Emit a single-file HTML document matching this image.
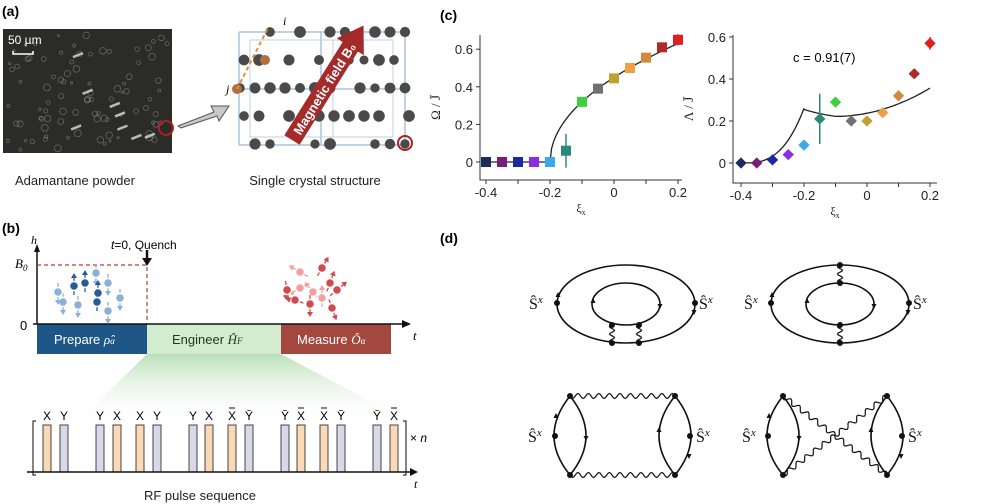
<!DOCTYPE html>
<html><head><meta charset="utf-8"><style>
html,body{margin:0;padding:0;background:#fff;}
svg{display:block;font-family:"Liberation Sans",sans-serif;}
.m{font-family:"Liberation Serif",serif;}
</style></head><body>
<svg id="s" width="997" height="504" viewBox="0 0 997 504" xmlns="http://www.w3.org/2000/svg">
<defs>
<linearGradient id="gg" x1="0" y1="0" x2="0" y2="1"><stop offset="0" stop-color="#a9d8a5"/><stop offset="1" stop-color="#ffffff" stop-opacity="0"/></linearGradient>
</defs>
<!-- (a) -->
<text x="2" y="16" font-size="14" font-weight="bold">(a)</text>
<rect x="3" y="29" width="169" height="124" fill="#2b2b27"/>
<g id="speck"></g>
<text x="8" y="44" font-size="12" fill="#fff">50 µm</text>
<path d="M13 51 V54 H33 V51" stroke="#fff" stroke-width="1.5" fill="none"/>
<circle cx="166" cy="128" r="7" fill="none" stroke="#b02020" stroke-width="2"/>
<path d="M178 126 L214 112 L211 106 L229 106 L219 121 L217 116 L181 128 Z" fill="#c8c8c8" stroke="#555" stroke-width="1"/>
<text x="75" y="185" font-size="13" text-anchor="middle" fill="#222">Adamantane powder</text>
<text x="315" y="185" font-size="13" text-anchor="middle" fill="#222">Single crystal structure</text>
<g id="cryst"></g>
<path d="M237 89 L268 28" stroke="#e09040" stroke-width="2" stroke-dasharray="4,3"/>
<text x="283" y="25" font-size="12" font-style="italic" class="m">i</text>
<text x="226" y="93" font-size="12" font-style="italic" class="m">j</text>
<g transform="translate(292,140) rotate(-58)">
<path d="M0 -9 L110 -9 L110 -16 L135 0 L110 16 L110 9 L0 9 Z" fill="#a52a2a"/>
<text x="8" y="5" font-size="13" font-weight="bold" fill="#fff">Magnetic field B₀</text>
</g>
<circle cx="405" cy="143" r="7" fill="none" stroke="#b02020" stroke-width="2"/>
<!-- (b) -->
<text x="2" y="233" font-size="14" font-weight="bold">(b)</text>
<text x="31" y="244" font-size="12" font-style="italic" class="m">h</text>
<path d="M37 324 V250" stroke="#111" stroke-width="1.5"/><path d="M34 252 L37 244 L40 252Z" fill="#111"/>
<text x="15" y="268" font-size="13" font-style="italic" class="m">B<tspan font-size="9" dy="3">0</tspan></text>
<text x="20" y="330" font-size="13">0</text>
<path d="M37 265 H147 V324" stroke="#c0392b" stroke-width="1.2" stroke-dasharray="4,3" fill="none"/>
<text x="111" y="249" font-size="12"><tspan font-style="italic">t</tspan>=0, Quench</text>
<path d="M147 250 V260" stroke="#111" stroke-width="2.5"/><path d="M142 258 L147 266 L152 258Z" fill="#111"/>
<path d="M147 354 L281 354 L415 425 L75 425 Z" fill="url(#gg)" opacity="0.8"/>
<rect x="37" y="324" width="110" height="30" fill="#1e5688"/>
<rect x="147" y="324" width="134" height="30" fill="#d3ebce"/>
<rect x="281" y="324" width="110" height="30" fill="#a3473f"/>
<path d="M33 324 H404" stroke="#111" stroke-width="1.5"/><path d="M402 320 L411 324 L402 328Z" fill="#111"/>
<text x="413" y="340" font-size="13" font-style="italic" class="m">t</text>
<text x="54" y="344" font-size="13" fill="#fff">Prepare <tspan class="m" font-style="italic">ρ̂<tspan font-size="9">α</tspan></tspan></text>
<text x="172" y="344" font-size="13" fill="#1a3a1a">Engineer <tspan class="m" font-style="italic">Ĥ<tspan font-size="9">F</tspan></tspan></text>
<text x="297" y="344" font-size="13" fill="#fff">Measure <tspan class="m" font-style="italic">Ô<tspan font-size="9">α</tspan></tspan></text>
<g id="spins"></g>
<g id="pulses"></g>
<path d="M36 421 H33 V475 H36" stroke="#333" fill="none" stroke-width="1.2"/>
<path d="M403 421 H406 V475 H403" stroke="#333" fill="none" stroke-width="1.2"/>
<path d="M27 472 H413" stroke="#111" stroke-width="1.5"/><path d="M410 468 L418 472 L410 476Z" fill="#111"/>
<text x="410" y="442" font-size="12">× <tspan font-style="italic">n</tspan></text>
<text x="414" y="488" font-size="12" font-style="italic" class="m">t</text>
<text x="200" y="500" font-size="13" text-anchor="middle" fill="#222">RF pulse sequence</text>
<!-- (c) -->
<text x="440" y="20" font-size="14" font-weight="bold">(c)</text>
<g id="plots" font-size="13" fill="#222"></g>
<text x="793" y="62" font-size="13">c = 0.91(7)</text>
<!-- (d) -->
<text x="440" y="243" font-size="14" font-weight="bold">(d)</text>
<g id="diag" fill="none" stroke="#111" stroke-width="1.6"></g>
<g font-size="16" class="m" fill="#111">
<text x="529" y="309">Ŝ<tspan font-size="11" dy="-6" font-style="italic">x</tspan></text>
<text x="699" y="309">Ŝ<tspan font-size="11" dy="-6" font-style="italic">x</tspan></text>
<text x="744" y="309">Ŝ<tspan font-size="11" dy="-6" font-style="italic">x</tspan></text>
<text x="913" y="309">Ŝ<tspan font-size="11" dy="-6" font-style="italic">x</tspan></text>
<text x="528" y="442">Ŝ<tspan font-size="11" dy="-6" font-style="italic">x</tspan></text>
<text x="696" y="442">Ŝ<tspan font-size="11" dy="-6" font-style="italic">x</tspan></text>
<text x="742" y="442">Ŝ<tspan font-size="11" dy="-6" font-style="italic">x</tspan></text>
<text x="908" y="442">Ŝ<tspan font-size="11" dy="-6" font-style="italic">x</tspan></text>
</g>
</svg>
<script>
var NS="http://www.w3.org/2000/svg";
function el(p,t,a,txt){var e=document.createElementNS(NS,t);for(var k in a)e.setAttribute(k,a[k]);if(txt!=null)e.textContent=txt;document.getElementById(p).appendChild(e);return e;}
var seed=7;function rnd(){seed=(seed*16807)%2147483647;return seed/2147483647;}
for(var i=0;i<90;i++){el("speck","circle",{cx:8+rnd()*160,cy:35+rnd()*115,r:1+rnd()*2.5,fill:"none",stroke:"#bbb","stroke-width":0.8,opacity:0.4});}
for(var i=0;i<8;i++){var x=30+rnd()*120,y=50+rnd()*90;el("speck","line",{x1:x,y1:y,x2:x+10,y2:y-4,stroke:"#ddd","stroke-width":2.5,opacity:0.8});}
var xs=[239,321,405],ys=[32,89,145];
for(var a=0;a<3;a++){el("cryst","line",{x1:xs[a],y1:32,x2:xs[a],y2:145,stroke:"#aac2da","stroke-width":1.5});el("cryst","line",{x1:239,y1:ys[a],x2:405,y2:ys[a],stroke:"#aac2da","stroke-width":1.5});}
[250,333,393].forEach(function(x){el("cryst","line",{x1:x,y1:40,x2:x,y2:137,stroke:"#bcd0e4","stroke-width":1});});
el("cryst","line",{x1:250,y1:40,x2:393,y2:40,stroke:"#bcd0e4"});el("cryst","line",{x1:250,y1:137,x2:393,y2:137,stroke:"#bcd0e4"});
for(var r=0;r<5;r++)for(var c=0;c<12;c++){var x=240+c*15+(r%2)*4,y=32+r*28;if(rnd()<0.75)el("cryst","circle",{cx:x,cy:y,r:4.5+rnd()*1.5,fill:"#4a4a4a"});}
el("cryst","circle",{cx:237,cy:89,r:5,fill:"#b07040"});el("cryst","circle",{cx:265,cy:60,r:5,fill:"#b07040"});
function spin(x,y,col,ang){var g=el("spins","g",{transform:"translate("+x+","+y+") rotate("+ang+")"});
 var l=document.createElementNS(NS,"line");l.setAttribute("x1",0);l.setAttribute("y1",-10);l.setAttribute("x2",0);l.setAttribute("y2",9);l.setAttribute("stroke",col);l.setAttribute("stroke-width",1.3);g.appendChild(l);
 var p=document.createElementNS(NS,"path");p.setAttribute("d","M-3 -8 L0 -13 L3 -8Z");p.setAttribute("fill",col);g.appendChild(p);
 var c=document.createElementNS(NS,"circle");c.setAttribute("r",4.5);c.setAttribute("fill",col);c.setAttribute("stroke","#fff");c.setAttribute("stroke-width",1.5);g.appendChild(c);}
[[74,286,0],[85,283,0],[96,273,1],[108,283,0],[98,293,0],[63,302,1],[78,305,0],[97,302,0],[108,311,0],[120,298,1],[58,292,1]].forEach(function(s){var d=s[2]||(s[0]%3==0);spin(s[0],s[1],d?"#8ab0d8":"#2a5a98",d?180:0);});
[[300,272,-60],[322,268,30],[330,283,20],[313,292,-40],[295,300,-70],[310,304,180],[322,298,0],[332,308,160],[337,290,50],[300,288,-120],[287,290,170]].forEach(function(s,i){spin(s[0],s[1],i%3==0?"#f0a0a0":"#d24a4a",s[2]);});
var P=[[43,"o","X"],[60,"g","Y"],[96,"g","Y"],[113,"o","X"],[136,"o","X"],[153,"g","Y"],[189,"g","Y"],[205,"o","X"],[228,"o","X̄"],[245,"g","Ȳ"],[281,"g","Ȳ"],[297,"o","X̄"],[320,"o","X̄"],[337,"g","Ȳ"],[373,"g","Ȳ"],[390,"o","X̄"]];
P.forEach(function(p){el("pulses","rect",{x:p[0],y:425,width:8,height:47,fill:p[1]=="o"?"#fbd9b6":"#d8d8e8",stroke:"#444","stroke-width":1});
 el("pulses","text",{x:p[0]+4,y:420,"font-size":12,"text-anchor":"middle"},p[2].charAt(0));
 if(p[2].length>1)el("pulses","line",{x1:p[0]+1,y1:408,x2:p[0]+7,y2:408,stroke:"#111","stroke-width":1});});
var cols=["#1c2a5c","#7a1c7a","#1c2aa0","#8c2ee0","#3aa8ea","#2a8a7a","#3cd03c","#707070","#c0a030","#f0a040","#d08a40","#b02a2a","#e02020"];
function plot(ox,x0,sx,y0,sy,top,bot,right,pts,err,curve,diam,lab){
 el("plots","path",{d:"M"+ox+" "+top+" V"+bot+" H"+right,stroke:"#333",fill:"none"});
 [-0.4,-0.3,-0.2,-0.1,0,0.1,0.2].forEach(function(v){var x=x0+(v+0.4)*sx;el("plots","line",{x1:x,y1:bot,x2:x,y2:bot+4,stroke:"#333"});});
 [[-0.4,"-0.4"],[-0.2,"-0.2"],[0,"0"],[0.2,"0.2"]].forEach(function(t){el("plots","text",{x:x0+(t[0]+0.4)*sx,y:bot+17,"text-anchor":"middle"},t[1]);});
 [[0,"0"],[0.2,"0.2"],[0.4,"0.4"],[0.6,"0.6"]].forEach(function(t){var y=y0-t[0]*sy;el("plots","line",{x1:ox-4,y1:y,x2:ox,y2:y,stroke:"#333"});el("plots","text",{x:ox-7,y:y+5,"text-anchor":"end"},t[1]);});
 el("plots","text",{x:(ox+right)/2,y:bot+32,"text-anchor":"middle","font-size":12,"font-family":"Liberation Serif"},"ξ").appendChild((function(){var t=document.createElementNS(NS,"tspan");t.setAttribute("font-size",8);t.setAttribute("dy",3);t.textContent="x";return t;})());
 var d="";curve.forEach(function(c,i){d+=(i?"L":"M")+(x0+(c[0]+0.4)*sx).toFixed(1)+" "+(y0-c[1]*sy).toFixed(1);});
 el("plots","path",{d:d,stroke:"#222","stroke-width":1.3,fill:"none"});
 pts.forEach(function(v,i){var x=x0+i*0.05*sx,y=y0-v*sy;
  if(err[i])el("plots","line",{x1:x,y1:y-err[i]*sy,x2:x,y2:y+err[i]*sy,stroke:cols[i],"stroke-width":1.5});
  if(diam)el("plots","rect",{x:x-4,y:y-4,width:8,height:8,fill:cols[i],transform:"rotate(45 "+x+" "+y+")"});
  else el("plots","rect",{x:x-5,y:y-5,width:10,height:10,fill:cols[i]});});
 el("plots","text",{x:0,y:0,transform:"translate("+(ox-40)+","+((top+bot)/2)+") rotate(-90)","text-anchor":"middle","font-size":13,"font-family":"Liberation Serif"},lab);
}
var c1=[[-0.4,0],[-0.2,0]];for(var v=-0.2;v<=0.2001;v+=0.005){var u=Math.max(0,v+0.2);c1.push([v,1.028*Math.sqrt(u)-0.05*u]);}
plot(480,486,320,162,188,35,180,682,[0,0,0,0,0,0.06,0.32,0.39,0.445,0.5,0.555,0.61,0.65],[0,0,0,0,0.02,0.09,0,0,0,0,0,0.02,0.03],c1,false,"Ω / J̄");
var c2=[];for(var v=-0.4;v<=-0.1999;v+=0.01){var u=(v+0.4)/0.2;c2.push([v,0.26*Math.pow(u,3)]);}
for(var v=-0.2;v<=0.2001;v+=0.01){var w=v+0.1;c2.push([v,0.222+1.3*w*w*(w>0?1.15:1)+(v<-0.1?0.02*(-0.1-v)/0.1*1:0)]);}
plot(733,741,315,163,210,35,183,937,[0,0,0.015,0.04,0.085,0.21,0.29,0.2,0.2,0.24,0.32,0.425,0.57],[0,0,0,0,0,0.12,0,0,0,0,0,0,0.03],c2,true,"Λ / J̄");
function wav(x1,y1,x2,y2,n,amp){var dx=x2-x1,dy=y2-y1,L=Math.hypot(dx,dy),nx=-dy/L,ny=dx/L,d="M"+x1+" "+y1;var N=n*8;for(var i=1;i<=N;i++){var t=i/N,s=Math.sin(t*n*2*Math.PI)*amp;d+="L"+(x1+dx*t+nx*s).toFixed(1)+" "+(y1+dy*t+ny*s).toFixed(1);}el("diag","path",{d:d,"stroke-width":1.2});}
function dot(x,y){el("diag","circle",{cx:x,cy:y,r:3,fill:"#111",stroke:"none"});}
function tip(x,y,up){el("diag","path",{d:up?"M"+(x-2.5)+" "+(y+2)+" L"+x+" "+(y-3)+" L"+(x+2.5)+" "+(y+2)+"Z":"M"+(x-2.5)+" "+(y-2)+" L"+x+" "+(y+3)+" L"+(x+2.5)+" "+(y-2)+"Z",fill:"#111",stroke:"none"});}
el("diag","ellipse",{cx:626,cy:304,rx:69,ry:39});el("diag","ellipse",{cx:626,cy:304,rx:34,ry:21});
wav(612,325,612,343,2.5,2.5);wav(639,325,639,343,2.5,2.5);dot(612,325);dot(639,325);dot(612,343);dot(639,343);dot(557,303);dot(695,303);tip(558,295,true);tip(694,312,false);tip(593,301,true);tip(660,306,false);
el("diag","ellipse",{cx:840,cy:304,rx:69,ry:39});el("diag","ellipse",{cx:840,cy:304,rx:34,ry:21});
wav(840,265,840,283,2.5,2.5);wav(840,325,840,343,2.5,2.5);dot(840,265);dot(840,283);dot(840,325);dot(840,343);dot(771,303);dot(909,303);tip(772,295,true);tip(908,312,false);tip(807,301,true);tip(874,306,false);
el("diag","path",{d:"M570 396 Q538 436 570 475"});el("diag","path",{d:"M570 396 Q602 436 570 475"});
el("diag","path",{d:"M675 396 Q643 436 675 475"});el("diag","path",{d:"M675 396 Q707 436 675 475"});
dot(555,436);dot(690,436);[[570,396],[675,396],[570,475],[675,475]].forEach(function(p){dot(p[0],p[1]);});
wav(570,396,675,396,10,2.5);wav(570,475,675,475,10,2.5);tip(556,416,true);tip(586,438,false);tip(659,430,true);tip(689,456,false);
el("diag","path",{d:"M783 396 Q751 436 783 475"});el("diag","path",{d:"M783 396 Q815 436 783 475"});
el("diag","path",{d:"M887 396 Q855 436 887 475"});el("diag","path",{d:"M887 396 Q919 436 887 475"});
dot(768,436);dot(902,436);[[783,396],[887,396],[783,475],[887,475]].forEach(function(p){dot(p[0],p[1]);});
wav(783,396,887,475,12,2.5);wav(783,475,887,396,12,2.5);tip(769,416,true);tip(799,438,false);tip(871,430,true);tip(901,456,false);
</script>
</body></html>
